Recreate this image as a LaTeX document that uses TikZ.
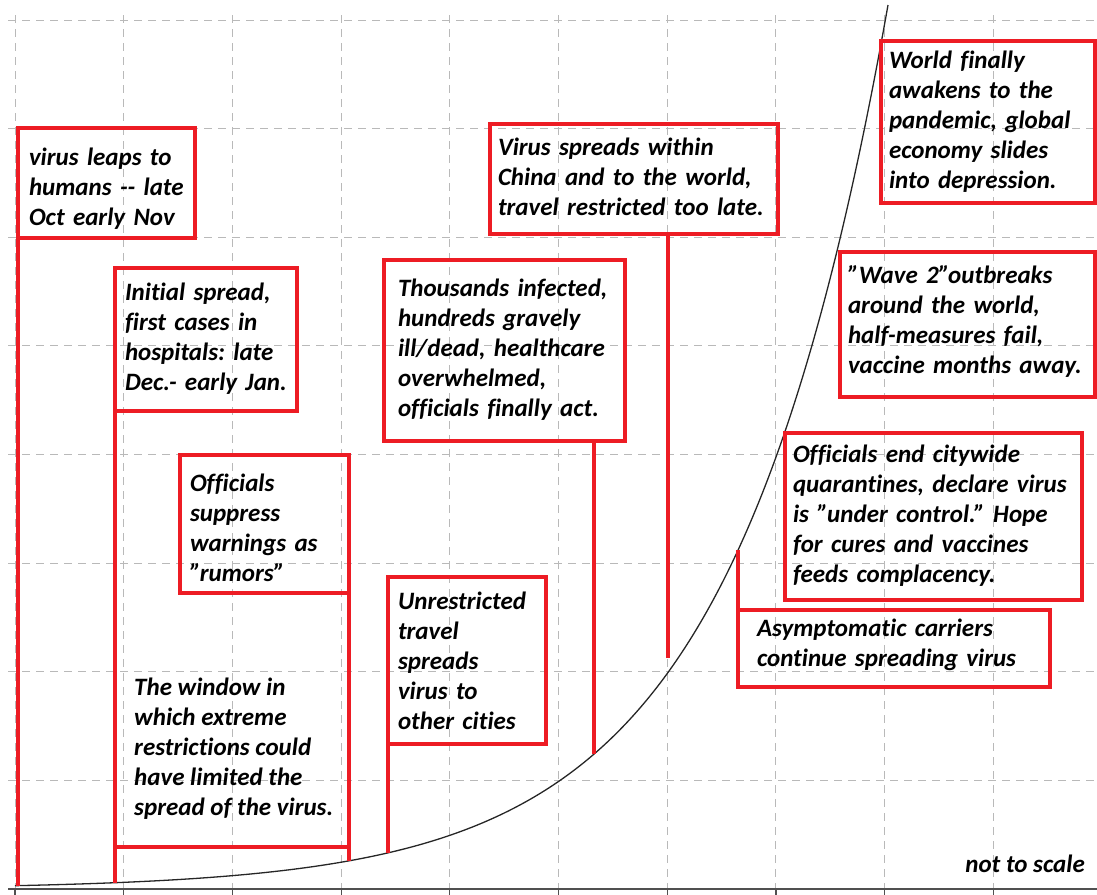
\documentclass[tikz,border=0pt]{standalone}
\usepackage{fontspec}
\setmainfont{Carlito}[BoldFont={Carlito Bold}, ItalicFont={Carlito Italic}, BoldItalicFont={Carlito Bold Italic}, Ligatures=NoCommon]
\usepackage{tikz}
\definecolor{alertred}{RGB}{237, 28, 36}
\definecolor{gridgray}{RGB}{185, 185, 185}
\definecolor{axisgray}{RGB}{80, 80, 80}
\newcommand{\notefont}{\fontsize{25}{30}\selectfont\bfseries\itshape\frenchspacing}
\newcommand{\qq}{\symbol{34}}
% one line per row, never rewrapped; optional argument lowers the text block
\newcommand{\lines}[2][0pt]{\noindent\raisebox{-#1}[\height][\depth]{\begin{tabular}{@{}l@{}}#2\end{tabular}}}

\begin{document}
\begin{tikzpicture}[
    x=1pt, y=-1pt,
    declare function={growth(\t)=889-3.33*exp(0.0064*(\t-15));},
    note/.style={rectangle, draw=alertred, line width=4.5pt, outer sep=0pt, inner xsep=8pt, inner ysep=0pt, anchor=north west, align=left},
    stem/.style={draw=alertred, line width=4.5pt},
    grid line/.style={gridgray, line width=1pt, dash pattern=on 8pt off 6pt},
    every node/.style={font=\notefont}
]
\useasboundingbox (0,0) rectangle (1097,894);

% Background grid and time axis
\foreach \i in {0,...,9}
    \draw[grid line] ({15+108.7*\i}, 15) -- ({15+108.7*\i}, 889);
\foreach \j in {0,...,7}
    \draw[grid line] (8, {20+108.6*\j}) -- (1097, {20+108.6*\j});
\draw[axisgray, line width=2pt] (8, 889) -- (1097, 889);
\foreach \i in {0,...,9}
    \draw[axisgray, line width=1.2pt] ({15+108.7*\i}, 889) -- ++(0, 6);

% Exponential growth curve
\draw[black!85, line width=1.3pt] plot[domain=15:888, samples=160, smooth] (\x, {growth(\x)});

% Event boxes, left to right
\node[note, text width=155pt, minimum width=177pt, minimum height=110pt, inner xsep=11pt] (b1) at (18, 128) {\lines[6pt]{virus leaps to\\humans -{}- late\\Oct early Nov}};
\node[note, text width=162pt, minimum width=182pt, minimum height=143pt, inner xsep=10pt] (b2) at (115, 268) {\lines{Initial spread,\\first cases in\\hospitals: late\\Dec.- early Jan.}};
\node[note, text width=149pt, minimum width=169pt, minimum height=138pt, inner xsep=10pt] (b3) at (180, 455) {\lines[6pt]{Officials\\suppress\\warnings as\\\qq rumors\qq}};
\node[note, text width=138pt, minimum width=158pt, minimum height=167pt, inner xsep=10pt] (b5) at (388, 577) {\lines[3pt]{Unrestricted\\travel\\spreads\\virus to\\other cities}};
\node[note, text width=213pt, minimum width=241pt, minimum height=181pt, inner xsep=14pt] (b6) at (384, 260) {\lines{Thousands infected,\\hundreds gravely\\ill/dead, healthcare\\overwhelmed,\\officials finally act.}};
\node[note, text width=272pt, minimum width=288pt, minimum height=110pt] (b7) at (490, 124) {\lines{Virus spreads within\\China and to the world,\\travel restricted too late.}};
\node[note, text width=198pt, minimum width=214pt, minimum height=162pt] (b8) at (881, 41) {\lines{World finally\\awakens to the\\pandemic, global\\economy slides\\into depression.}};
\node[note, text width=239pt, minimum width=255pt, minimum height=145pt] (b9) at (840, 252) {\lines[-2pt]{\qq Wave 2\qq outbreaks\\around the world,\\half-measures fail,\\vaccine months away.}};
\node[note, text width=281pt, minimum width=297pt, minimum height=167pt] (b10) at (785, 433) {\lines{Officials end citywide\\quarantines, declare virus\\is \qq under control.\qq\ Hope\\for cures and vaccines\\feeds complacency.}};
\node[note, text width=274pt, minimum width=312pt, minimum height=77pt, inner xsep=19pt] (b11) at (738, 610) {\lines[-3pt]{Asymptomatic carriers\\continue spreading virus}};

% Free labels
\node[anchor=north west, inner sep=0pt] (w) at (134, 674) {\lines{The window in\\which extreme\\restrictions could\\have limited the\\spread of the virus.}};
\node[anchor=base east, inner sep=0pt] (scale) at (1085, 872) {not to scale};

% Points on the curve where the stems land
\coordinate (c1) at (18, {growth(18)});
\coordinate (c2) at (115, {growth(115)});
\coordinate (c3) at (349, {growth(349)});
\coordinate (c5) at (388, {growth(388)});
\coordinate (c6) at (594, {growth(594)});
\coordinate (c7) at (668, {growth(668)-14});
\coordinate (c11) at (738, {growth(738)});
\coordinate (wl) at (115, 847);
\coordinate (wr) at (349, 847);

% Stems down to the curve
\draw[stem] (b1.south west) -- (c1);
\draw[stem] (b2.south west) -- (c2);
\draw[stem] (b3.south east) -- (c3);
\draw[stem] (wl) -- (wr);
\draw[stem] (b5.south west) -- (c5);
\draw[stem] (b6.south -| c6) -- (c6);
\draw[stem] (b7.south -| c7) -- (c7);
\draw[stem] (b11.north west) -- (c11);

\end{tikzpicture}
\end{document}
